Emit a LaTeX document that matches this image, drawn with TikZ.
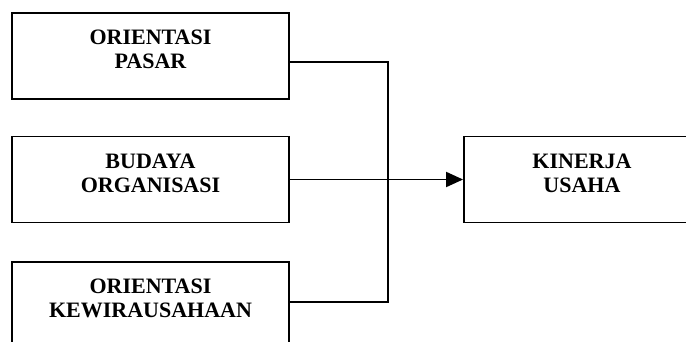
\documentclass[tikz,border=0pt]{standalone}
\usepackage{fontspec}
\setmainfont{Liberation Serif}
\usetikzlibrary{arrows.meta}
\newcommand{\boxtext}[2]{\raisebox{4pt}[\height][\depth]{\begin{tabular}{@{}c@{}}#1\\#2\end{tabular}}}
\tikzset{
  varbox/.style={draw, minimum width=277pt, minimum height=86pt, inner sep=0pt,
    font=\fontsize{22}{24}\selectfont\bfseries}
}
\begin{document}
\begin{tikzpicture}[>={Triangle[length=17pt,width=15pt]}, line width=1.9pt, x=1pt, y=-1pt]
        \useasboundingbox (0,0) rectangle (686,342);
        \node[varbox] (pasar) at (150.5,56) {\boxtext{ORIENTASI}{PASAR}};
        \node[varbox] (budaya) at (150.5,179.5) {\boxtext{BUDAYA}{ORGANISASI}};
        \node[varbox] (wira) at (150.5,305) {\boxtext{ORIENTASI}{KEWIRAUSAHAAN}};
        \node[varbox, minimum width=236pt] (kinerja) at (582,179.5) {\boxtext{KINERJA}{USAHA}};
        \coordinate (join) at (388,179.5);
        \draw ([yshift=-6pt]pasar.east) -| (join) |- ([yshift=3pt]wira.east);
        \draw [->](budaya.east) -- (kinerja.west);
    \end{tikzpicture}
\end{document}
